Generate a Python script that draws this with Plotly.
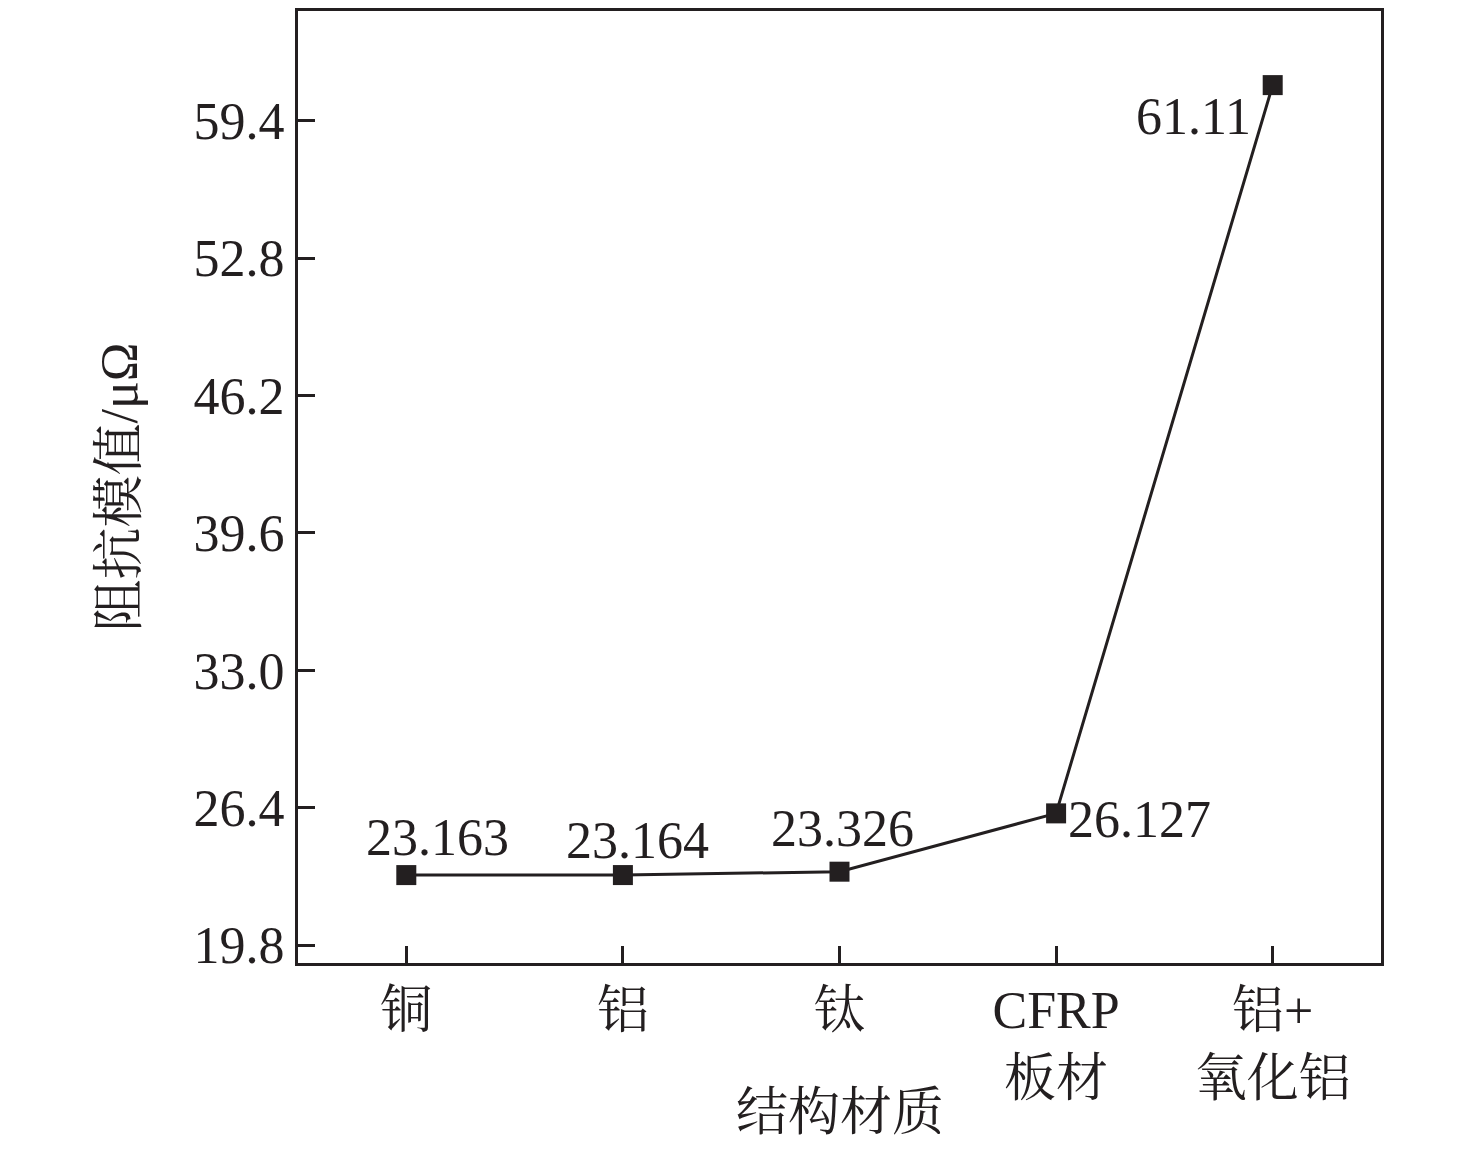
import plotly.graph_objects as go

categories = ["铜", "铝", "钛", "CFRP<br>板材", "铝+<br>氧化铝"]
values = [23.163, 23.164, 23.326, 26.127, 61.11]
labels = ["23.163", "23.164", "23.326", "26.127", "61.11"]
y_ticks = [19.8, 26.4, 33.0, 39.6, 46.2, 52.8, 59.4]
y_tick_text = ["19.8", "26.4", "33.0", "39.6", "46.2", "52.8", "59.4"]
x_title = "结构材质"
y_title = "阻抗模值/μΩ"

FONT = "Liberation Serif, Times New Roman, Noto Serif CJK SC, Noto Sans CJK SC, serif"
BLACK = "#231f20"
FS = 52

x_idx = list(range(len(categories)))

fig = go.Figure()
fig.add_trace(go.Scatter(
    x=x_idx, y=values, mode="lines+markers",
    line=dict(color=BLACK, width=3),
    marker=dict(symbol="square", size=20, color=BLACK),
    showlegend=False, hoverinfo="skip",
))

# label offsets (pixels) relative to each point
shifts = [(31, 38), (15, 35), (3, 43), (83, -6), (-79, -31)]
for xi, v, t, (dx, dy) in zip(x_idx, values, labels, shifts):
    fig.add_annotation(x=xi, y=v, text=t, showarrow=False,
                       xshift=dx, yshift=dy,
                       font=dict(family=FONT, size=FS, color=BLACK))

# x-axis title as paper annotation (keeps it inside the page)
fig.add_annotation(x=0.5, y=-0.157, xref="paper", yref="paper",
                   text=x_title, showarrow=False, yanchor="middle",
                   font=dict(family=FONT, size=FS, color=BLACK))

fig.update_layout(
    width=1476, height=1149,
    margin=dict(l=290, r=103, t=0, b=194),
    paper_bgcolor="white", plot_bgcolor="white",
    font=dict(family=FONT, size=FS, color=BLACK),
)
fig.update_xaxes(
    range=[-0.5, 4.5], tickmode="array", tickvals=x_idx, ticktext=categories,
    showgrid=False, zeroline=False,
    showline=True, linewidth=3, linecolor=BLACK, mirror=True,
    ticks="inside", ticklen=17, tickwidth=3, tickcolor=BLACK,
    tickfont=dict(family=FONT, size=FS, color=BLACK),
)
fig.update_yaxes(
    range=[18.94, 64.67], tickmode="array", tickvals=y_ticks, ticktext=y_tick_text,
    showgrid=False, zeroline=False,
    showline=True, linewidth=3, linecolor=BLACK, mirror=True,
    ticks="inside", ticklen=17, tickwidth=3, tickcolor=BLACK,
    tickfont=dict(family=FONT, size=FS, color=BLACK),
    title=dict(text=y_title, standoff=40, font=dict(family=FONT, size=FS, color=BLACK)),
)

fig.write_html("out.html")
